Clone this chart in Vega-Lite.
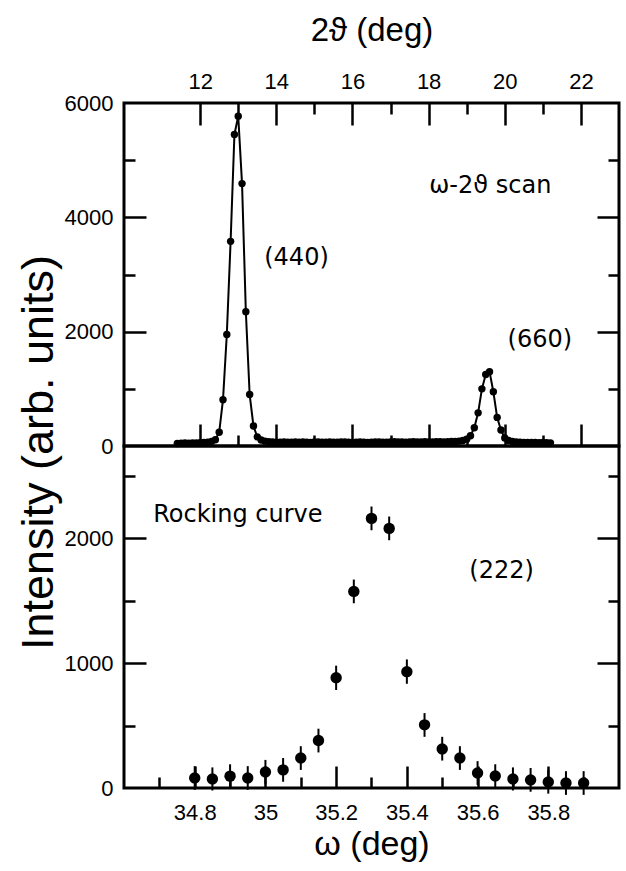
{
  "$schema": "https://vega.github.io/schema/vega-lite/v6.json",
  "background": "white",
  "padding": {"left": 14, "top": 12, "right": 5, "bottom": 5},
  "bounds": "flush",
  "spacing": 0,
  "config": {
    "view": {"stroke": "black", "strokeWidth": 3},
    "axis": {
      "grid": false, "domain": false, "tickColor": "black", "tickWidth": 2.5,
      "labelFont": "Liberation Sans", "labelFontSize": 22, "labelColor": "black", "labelFlush": false,
      "titleFont": "Liberation Sans", "titleFontSize": 33, "titleFontWeight": "normal", "titleColor": "black"
    },
    "text": {"font": "DejaVu Sans", "fontSize": 24, "color": "black"}
  },
  "datasets": {
    "scan": [
      {"tt": 11.4, "I": 45}, {"tt": 11.5, "I": 48}, {"tt": 11.6, "I": 52}, {"tt": 11.7, "I": 50}, {"tt": 11.8, "I": 55},
      {"tt": 11.9, "I": 53}, {"tt": 12.0, "I": 58}, {"tt": 12.1, "I": 60}, {"tt": 12.2, "I": 68}, {"tt": 12.3, "I": 80},
      {"tt": 12.4, "I": 110}, {"tt": 12.5, "I": 240}, {"tt": 12.6, "I": 810}, {"tt": 12.7, "I": 1950}, {"tt": 12.8, "I": 3580},
      {"tt": 12.9, "I": 5450}, {"tt": 13.0, "I": 5770}, {"tt": 13.1, "I": 4590}, {"tt": 13.2, "I": 2350}, {"tt": 13.3, "I": 900},
      {"tt": 13.4, "I": 350}, {"tt": 13.5, "I": 160}, {"tt": 13.6, "I": 105}, {"tt": 13.7, "I": 85}, {"tt": 13.8, "I": 75},
      {"tt": 13.9, "I": 70}, {"tt": 14.0, "I": 68}, {"tt": 14.1, "I": 66}, {"tt": 14.2, "I": 70}, {"tt": 14.3, "I": 65},
      {"tt": 14.4, "I": 68}, {"tt": 14.5, "I": 72}, {"tt": 14.6, "I": 66}, {"tt": 14.7, "I": 70}, {"tt": 14.8, "I": 68},
      {"tt": 14.9, "I": 64}, {"tt": 15.0, "I": 70}, {"tt": 15.1, "I": 72}, {"tt": 15.2, "I": 68}, {"tt": 15.3, "I": 66},
      {"tt": 15.4, "I": 70}, {"tt": 15.5, "I": 65}, {"tt": 15.6, "I": 68}, {"tt": 15.7, "I": 72}, {"tt": 15.8, "I": 70},
      {"tt": 15.9, "I": 66}, {"tt": 16.0, "I": 64}, {"tt": 16.1, "I": 68}, {"tt": 16.2, "I": 70}, {"tt": 16.3, "I": 66},
      {"tt": 16.4, "I": 64}, {"tt": 16.5, "I": 68}, {"tt": 16.6, "I": 72}, {"tt": 16.7, "I": 70}, {"tt": 16.8, "I": 68},
      {"tt": 16.9, "I": 66}, {"tt": 17.0, "I": 70}, {"tt": 17.1, "I": 74}, {"tt": 17.2, "I": 72}, {"tt": 17.3, "I": 70},
      {"tt": 17.4, "I": 68}, {"tt": 17.5, "I": 72}, {"tt": 17.6, "I": 74}, {"tt": 17.7, "I": 70}, {"tt": 17.8, "I": 72},
      {"tt": 17.9, "I": 75}, {"tt": 18.0, "I": 72}, {"tt": 18.1, "I": 70}, {"tt": 18.2, "I": 74}, {"tt": 18.3, "I": 76},
      {"tt": 18.4, "I": 72}, {"tt": 18.5, "I": 75}, {"tt": 18.6, "I": 78}, {"tt": 18.7, "I": 80}, {"tt": 18.8, "I": 85},
      {"tt": 18.9, "I": 95}, {"tt": 19.0, "I": 120}, {"tt": 19.1, "I": 180}, {"tt": 19.2, "I": 320}, {"tt": 19.3, "I": 580},
      {"tt": 19.4, "I": 1000}, {"tt": 19.5, "I": 1250}, {"tt": 19.6, "I": 1300}, {"tt": 19.7, "I": 950}, {"tt": 19.8, "I": 500},
      {"tt": 19.9, "I": 280}, {"tt": 20.0, "I": 140}, {"tt": 20.1, "I": 95}, {"tt": 20.2, "I": 78}, {"tt": 20.3, "I": 70},
      {"tt": 20.4, "I": 66}, {"tt": 20.5, "I": 64}, {"tt": 20.6, "I": 62}, {"tt": 20.7, "I": 60}, {"tt": 20.8, "I": 62},
      {"tt": 20.9, "I": 58}, {"tt": 21.0, "I": 60}, {"tt": 21.1, "I": 57}, {"tt": 21.2, "I": 55}
    ],
    "annTop": [
      {"tt": 19.62, "I": 4550, "label": "ω-2ϑ scan"},
      {"tt": 14.53, "I": 3290, "label": "(440)"},
      {"tt": 20.92, "I": 1850, "label": "(660)"}
    ],
    "rock": [
      {"w": 34.80, "I": 80, "lo": -15, "hi": 175},
      {"w": 34.85, "I": 72, "lo": -20, "hi": 165},
      {"w": 34.90, "I": 95, "lo": 0, "hi": 190},
      {"w": 34.95, "I": 80, "lo": -15, "hi": 175},
      {"w": 35.00, "I": 128, "lo": 30, "hi": 225},
      {"w": 35.05, "I": 145, "lo": 50, "hi": 240},
      {"w": 35.10, "I": 240, "lo": 145, "hi": 335},
      {"w": 35.15, "I": 380, "lo": 285, "hi": 475},
      {"w": 35.20, "I": 883, "lo": 785, "hi": 980},
      {"w": 35.25, "I": 1575, "lo": 1480, "hi": 1670},
      {"w": 35.30, "I": 2160, "lo": 2065, "hi": 2255},
      {"w": 35.35, "I": 2080, "lo": 1985, "hi": 2175},
      {"w": 35.40, "I": 932, "lo": 835, "hi": 1030},
      {"w": 35.45, "I": 506, "lo": 410, "hi": 600},
      {"w": 35.50, "I": 313, "lo": 220, "hi": 410},
      {"w": 35.55, "I": 240, "lo": 145, "hi": 335},
      {"w": 35.60, "I": 120, "lo": 25, "hi": 215},
      {"w": 35.65, "I": 96, "lo": 0, "hi": 190},
      {"w": 35.70, "I": 72, "lo": -20, "hi": 165},
      {"w": 35.75, "I": 64, "lo": -30, "hi": 160},
      {"w": 35.80, "I": 48, "lo": -45, "hi": 145},
      {"w": 35.85, "I": 40, "lo": -55, "hi": 135},
      {"w": 35.90, "I": 40, "lo": -55, "hi": 135}
    ],
    "annBot": [
      {"w": 34.922, "I": 2190, "label": "Rocking curve"},
      {"w": 35.668, "I": 1735, "label": "(222)"}
    ]
  },
  "vconcat": [
    {
      "width": 495,
      "height": 343,
      "layer": [
        {
          "data": {"name": "scan"},
          "mark": {"type": "line", "color": "black", "strokeWidth": 2},
          "encoding": {
            "x": {"field": "tt", "type": "quantitative", "scale": {"domain": [10, 23], "nice": false, "zero": false},
              "axis": {"orient": "top", "values": [12, 14, 16, 18, 20, 22], "format": "d", "ticks": false, "tickSize": 0, "labelPadding": 10, "title": "2ϑ (deg)", "titlePadding": 23}},
            "y": {"field": "I", "type": "quantitative", "scale": {"domain": [0, 6000], "nice": false, "zero": false},
              "axis": {"orient": "left", "values": [0, 2000, 4000, 6000], "format": "d", "ticks": false, "tickSize": 0, "labelPadding": 11, "title": "Intensity (arb. units)", "titleX": -63, "titleY": 349, "titleFontSize": 45}}
          }
        },
        {
          "data": {"name": "scan"},
          "mark": {"type": "point", "filled": true, "color": "black", "size": 55, "opacity": 1},
          "encoding": {
            "x": {"field": "tt", "type": "quantitative", "scale": {"domain": [10, 23], "nice": false, "zero": false},
              "axis": {"orient": "top", "values": [12, 14, 16, 18, 20, 22], "tickSize": -22, "labels": false, "title": null}},
            "y": {"field": "I", "type": "quantitative", "scale": {"domain": [0, 6000], "nice": false, "zero": false},
              "axis": {"orient": "left", "values": [2000, 4000], "tickSize": -22, "labels": false, "title": null}}
          }
        },
        {
          "data": {"name": "annTop"},
          "mark": {"type": "text", "align": "center", "baseline": "middle"},
          "encoding": {
            "x": {"field": "tt", "type": "quantitative", "scale": {"domain": [10, 23], "nice": false, "zero": false},
              "axis": {"orient": "top", "values": [13, 15, 17, 19, 21], "tickSize": -11, "labels": false, "title": null}},
            "y": {"field": "I", "type": "quantitative", "scale": {"domain": [0, 6000], "nice": false, "zero": false},
              "axis": {"orient": "left", "values": [1000, 3000, 5000], "tickSize": -11, "labels": false, "title": null}},
            "text": {"field": "label"}
          }
        },
        {
          "data": {"name": "scan"},
          "mark": {"type": "point", "opacity": 0},
          "encoding": {
            "x": {"field": "tt", "type": "quantitative", "scale": {"domain": [10, 23], "nice": false, "zero": false},
              "axis": {"orient": "bottom", "values": [12, 14, 16, 18, 20, 22], "tickSize": -22, "labels": false, "title": null}},
            "y": {"field": "I", "type": "quantitative", "scale": {"domain": [0, 6000], "nice": false, "zero": false},
              "axis": {"orient": "right", "values": [2000, 4000], "tickSize": -22, "labels": false, "title": null}}
          }
        },
        {
          "data": {"name": "scan"},
          "mark": {"type": "point", "opacity": 0},
          "encoding": {
            "x": {"field": "tt", "type": "quantitative", "scale": {"domain": [10, 23], "nice": false, "zero": false},
              "axis": {"orient": "bottom", "values": [13, 15, 17, 19, 21], "tickSize": -11, "labels": false, "title": null}},
            "y": {"field": "I", "type": "quantitative", "scale": {"domain": [0, 6000], "nice": false, "zero": false},
              "axis": {"orient": "right", "values": [1000, 3000, 5000], "tickSize": -11, "labels": false, "title": null}}
          }
        }
      ],
      "resolve": {"axis": {"x": "independent", "y": "independent"}}
    },
    {
      "width": 495,
      "height": 342,
      "layer": [
        {
          "data": {"name": "rock"},
          "mark": {"type": "rule", "color": "black", "strokeWidth": 2},
          "encoding": {
            "x": {"field": "w", "type": "quantitative", "scale": {"domain": [34.6, 36.0], "nice": false, "zero": false},
              "axis": {"orient": "bottom", "values": [34.8, 35.0, 35.2, 35.4, 35.6, 35.8], "format": "~g", "ticks": false, "tickSize": 0, "labelPadding": 14, "title": "ω  (deg)", "titleFontSize": 34, "titlePadding": 4}},
            "y": {"field": "lo", "type": "quantitative", "scale": {"domain": [0, 2740], "nice": false, "zero": false},
              "axis": {"orient": "left", "values": [0, 1000, 2000], "format": "d", "ticks": false, "tickSize": 0, "labelPadding": 11, "title": null}},
            "y2": {"field": "hi"}
          }
        },
        {
          "data": {"name": "rock"},
          "mark": {"type": "point", "filled": true, "color": "black", "size": 130, "opacity": 1},
          "encoding": {
            "x": {"field": "w", "type": "quantitative", "scale": {"domain": [34.6, 36.0], "nice": false, "zero": false},
              "axis": {"orient": "bottom", "values": [34.8, 35.0, 35.2, 35.4, 35.6, 35.8], "tickSize": -22, "labels": false, "title": null}},
            "y": {"field": "I", "type": "quantitative", "scale": {"domain": [0, 2740], "nice": false, "zero": false},
              "axis": {"orient": "left", "values": [1000, 2000], "tickSize": -22, "labels": false, "title": null}}
          }
        },
        {
          "data": {"name": "annBot"},
          "mark": {"type": "text", "align": "center", "baseline": "middle"},
          "encoding": {
            "x": {"field": "w", "type": "quantitative", "scale": {"domain": [34.6, 36.0], "nice": false, "zero": false},
              "axis": {"orient": "bottom", "values": [34.7, 34.9, 35.1, 35.3, 35.5, 35.7, 35.9], "tickSize": -11, "labels": false, "title": null}},
            "y": {"field": "I", "type": "quantitative", "scale": {"domain": [0, 2740], "nice": false, "zero": false},
              "axis": {"orient": "left", "values": [500, 1500, 2500], "tickSize": -11, "labels": false, "title": null}},
            "text": {"field": "label"}
          }
        },
        {
          "data": {"name": "rock"},
          "mark": {"type": "point", "opacity": 0},
          "encoding": {
            "x": {"field": "w", "type": "quantitative", "scale": {"domain": [34.6, 36.0], "nice": false, "zero": false}, "axis": null},
            "y": {"field": "I", "type": "quantitative", "scale": {"domain": [0, 2740], "nice": false, "zero": false},
              "axis": {"orient": "right", "values": [1000, 2000], "tickSize": -22, "labels": false, "title": null}}
          }
        },
        {
          "data": {"name": "rock"},
          "mark": {"type": "point", "opacity": 0},
          "encoding": {
            "x": {"field": "w", "type": "quantitative", "scale": {"domain": [34.6, 36.0], "nice": false, "zero": false}, "axis": null},
            "y": {"field": "I", "type": "quantitative", "scale": {"domain": [0, 2740], "nice": false, "zero": false},
              "axis": {"orient": "right", "values": [500, 1500, 2500], "tickSize": -11, "labels": false, "title": null}}
          }
        }
      ],
      "resolve": {"axis": {"x": "independent", "y": "independent"}}
    }
  ]
}
